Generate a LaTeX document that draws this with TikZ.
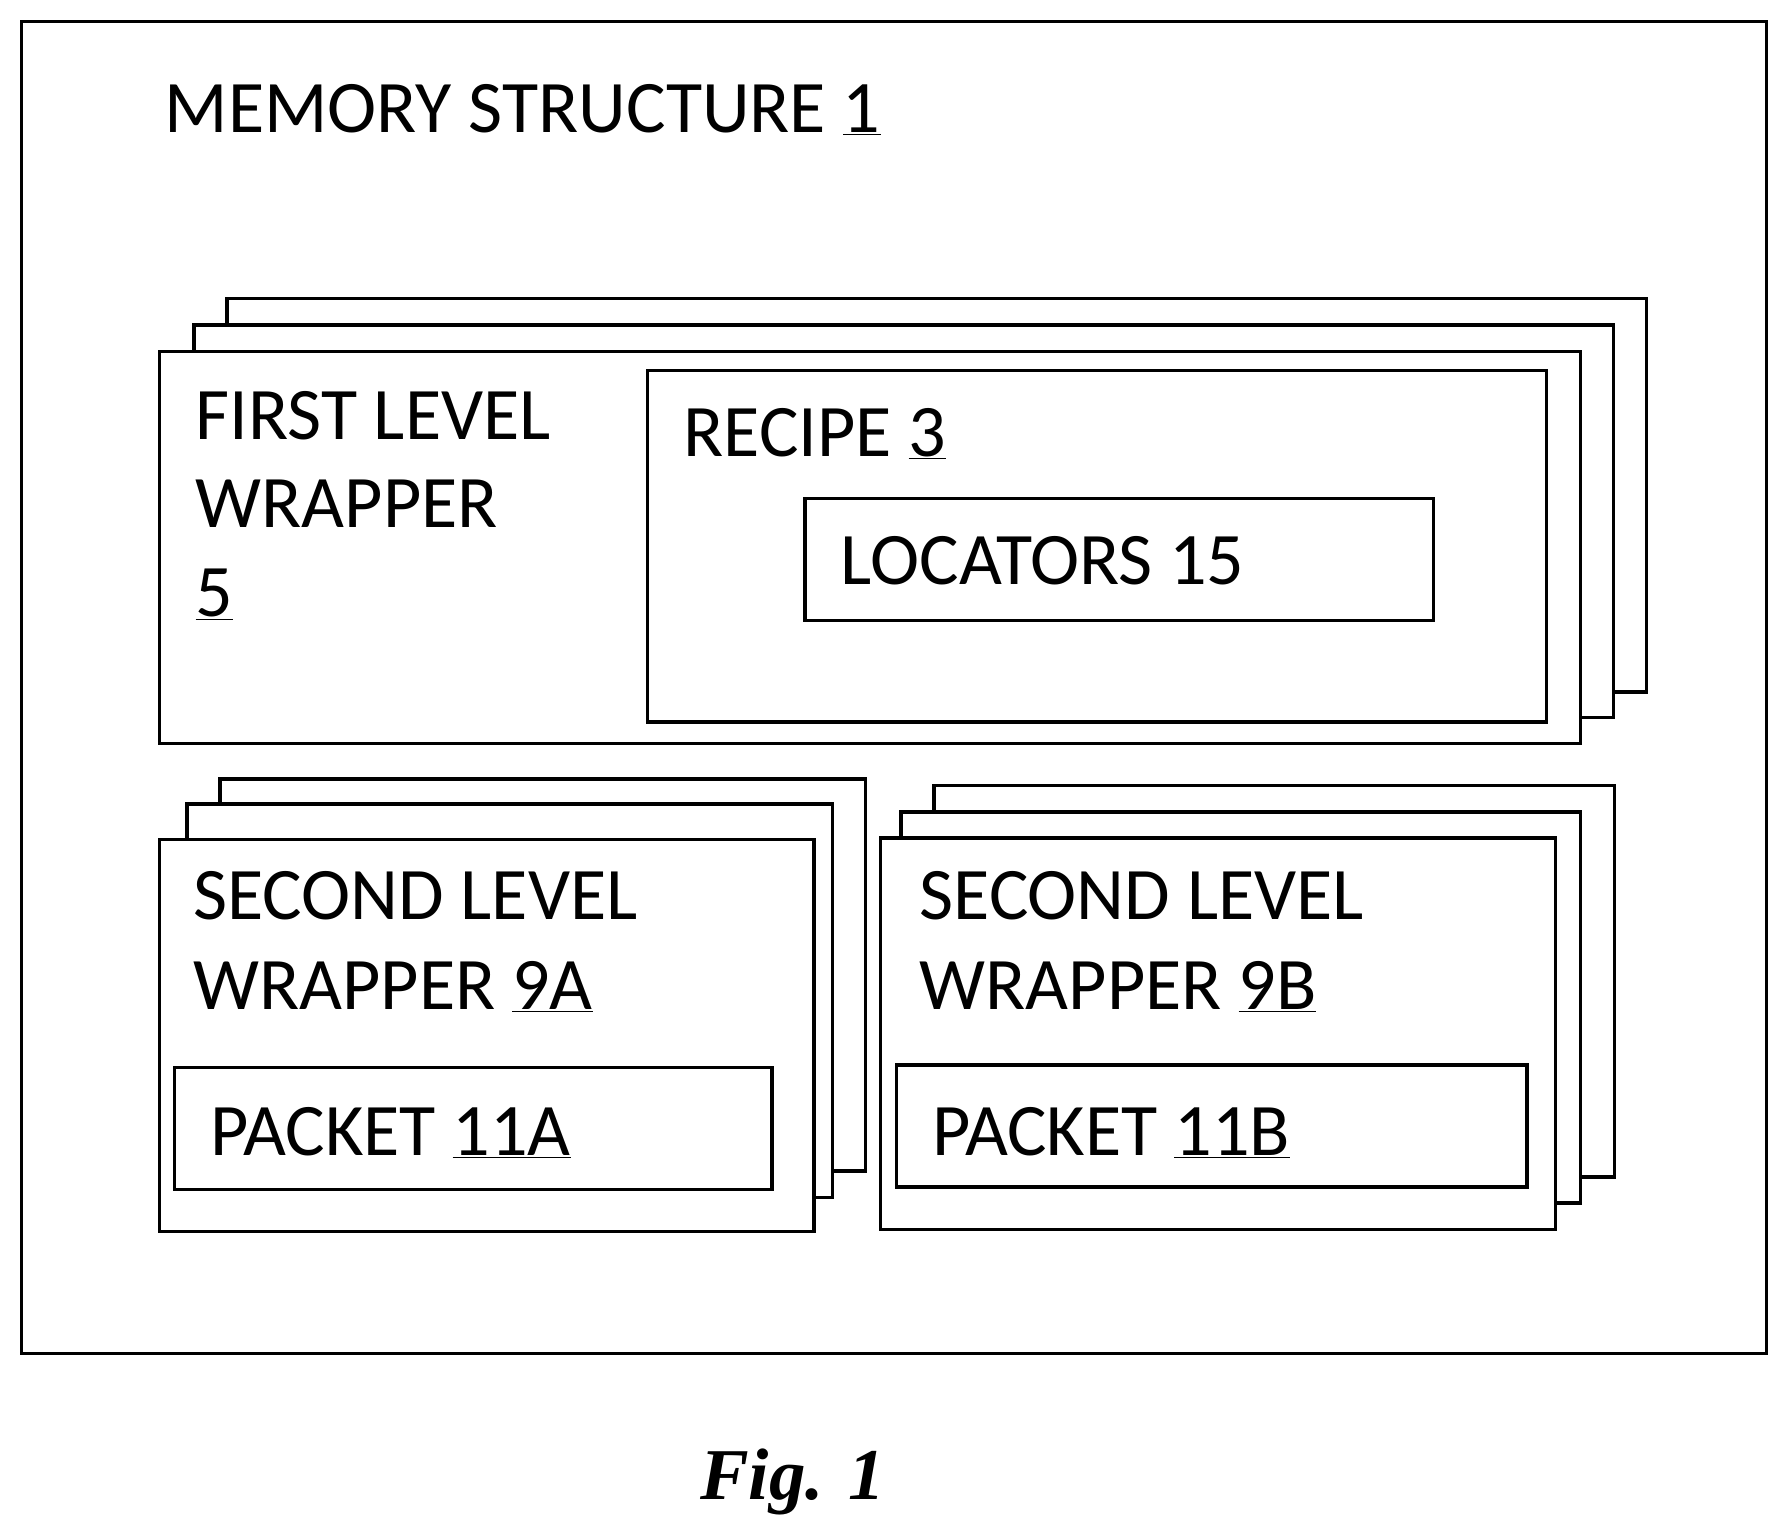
\documentclass[tikz,border=0pt]{standalone}
\usepackage{fontspec}
\setmainfont{Carlito}
\newfontfamily\figfont{Liberation Serif}
\newcommand{\ul}[1]{\underline{#1}}
\begin{document}
\begin{tikzpicture}[x=1pt,y=-1pt,line width=3pt,
  box/.style={draw,fill=white},
  lbl/.style={anchor=base west,inner sep=0pt,font=\fontsize{65}{78}\selectfont}]
\useasboundingbox (0,0) rectangle (1568,1349);
\draw (19,19) rectangle (1549,1187);
\node[lbl] (t1) at (143,116) {MEMORY STRUCTURE \ul{1}};
% first level stack
\draw[box] (199,262) rectangle (1444,607);
\draw[box] (170,285) rectangle (1415,629);
\draw[box] (140,308) rectangle (1386,652);
\node[lbl] (f1) at (170,385) {FIRST LEVEL};
\node[lbl] (f2) at (170,463) {WRAPPER};
\node[lbl] (f3) at (170,541) {\ul{5}};
\draw[box] (568,325) rectangle (1356,633);
\node[lbl] (r) at (598,400) {RECIPE \ul{3}};
\draw[box] (706,437) rectangle (1257,544);
\node[lbl] (l) at (736,513) {LOCATORS 15};
% left second
\draw[box] (193,683) rectangle (759,1027);
\draw[box] (164,705) rectangle (730,1050);
\draw[box] (140,736) rectangle (714,1080);
\node[lbl] (a1) at (168,806) {SECOND LEVEL};
\node[lbl] (a2) at (168,885) {WRAPPER \ul{9A}};
\draw[box] (153,936) rectangle (677,1043);
\node[lbl] (pa) at (183,1013) {PACKET \ul{11A}};
% right second
\draw[box] (819,689) rectangle (1416,1032);
\draw[box] (790,712) rectangle (1386,1055);
\draw[box] (772,735) rectangle (1364,1078);
\node[lbl] (b1) at (805,806) {SECOND LEVEL};
\node[lbl] (b2) at (805,885) {WRAPPER \ul{9B}};
\draw[box] (786,934) rectangle (1339,1041);
\node[lbl] (pb) at (816,1013) {PACKET \ul{11B}};
\node[anchor=base,inner sep=0pt,font=\figfont\bfseries\itshape\fontsize{64}{70}\selectfont] (fig) at (695,1315) {Fig. 1};
\end{tikzpicture}
\end{document}
